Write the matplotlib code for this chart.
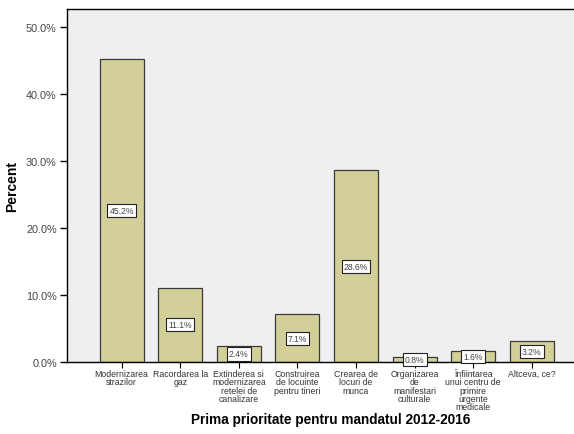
import matplotlib
matplotlib.use("Agg")
import matplotlib.pyplot as plt
import numpy as np

plt.rcParams['font.family'] = ['Liberation Sans', 'DejaVu Sans']

categories = [
    "Modernizarea\nstrazilor",
    "Racordarea la\ngaz",
    "Extinderea si\nmodernizarea\nretelei de\ncanalizare",
    "Construirea\nde locuinte\npentru tineri",
    "Crearea de\nlocuri de\nmunca",
    "Organizarea\nde\nmanifestari\nculturale",
    "Înfiintarea\nunui centru de\nprimire\nurgente\nmedicale",
    "Altceva, ce?",
]
percent = [45.2, 11.1, 2.4, 7.1, 28.6, 0.8, 1.6, 3.2]
yticks = [0, 10, 20, 30, 40, 50]

fig = plt.figure(figsize=(5.74, 4.35), dpi=100)
ax = fig.add_axes([0.1159, 0.1655, 0.8841, 0.8115])
ax.set_facecolor('#EFEFEF')

x = np.arange(len(categories))
ax.bar(x, percent, width=0.75, color='#D3CF99', edgecolor='#3a3a3a', linewidth=0.9, zorder=2)

# value boxes sit half way up each bar
for xi, v in zip(x, percent):
    ax.text(xi, v / 2, "%.1f%%" % v, ha='center', va='center', fontsize=6.2, color='#444444',
            zorder=3,
            bbox=dict(boxstyle='square,pad=0.25', fc='white', ec='#222222', lw=0.8))

ax.set_xlim(-0.94, 7.72)
ax.set_ylim(0, 52.7)
ax.set_yticks(yticks)
ax.set_yticklabels(["%.1f%%" % t for t in yticks], fontsize=7.8, color='#444444')
ax.set_xticks(x)
ax.set_xticklabels(categories, fontsize=6.3, color='#333333', linespacing=0.88)
ax.tick_params(axis='y', direction='out', length=5, width=1, pad=2)
ax.tick_params(axis='x', direction='out', length=4, width=0.8, pad=1.2)

for side in ['top', 'left', 'bottom']:
    ax.spines[side].set_color('black')
    ax.spines[side].set_linewidth(1.0)
ax.spines['right'].set_visible(False)

ax.set_ylabel('Percent', fontsize=10, fontweight='bold', labelpad=5)
fig.text(0.5767, 1 - 424 / 435, 'Prima prioritate pentru mandatul 2012-2016', fontsize=9.8,
         fontweight='bold', ha='center', va='baseline')

fig.savefig('out.png', dpi=100)
